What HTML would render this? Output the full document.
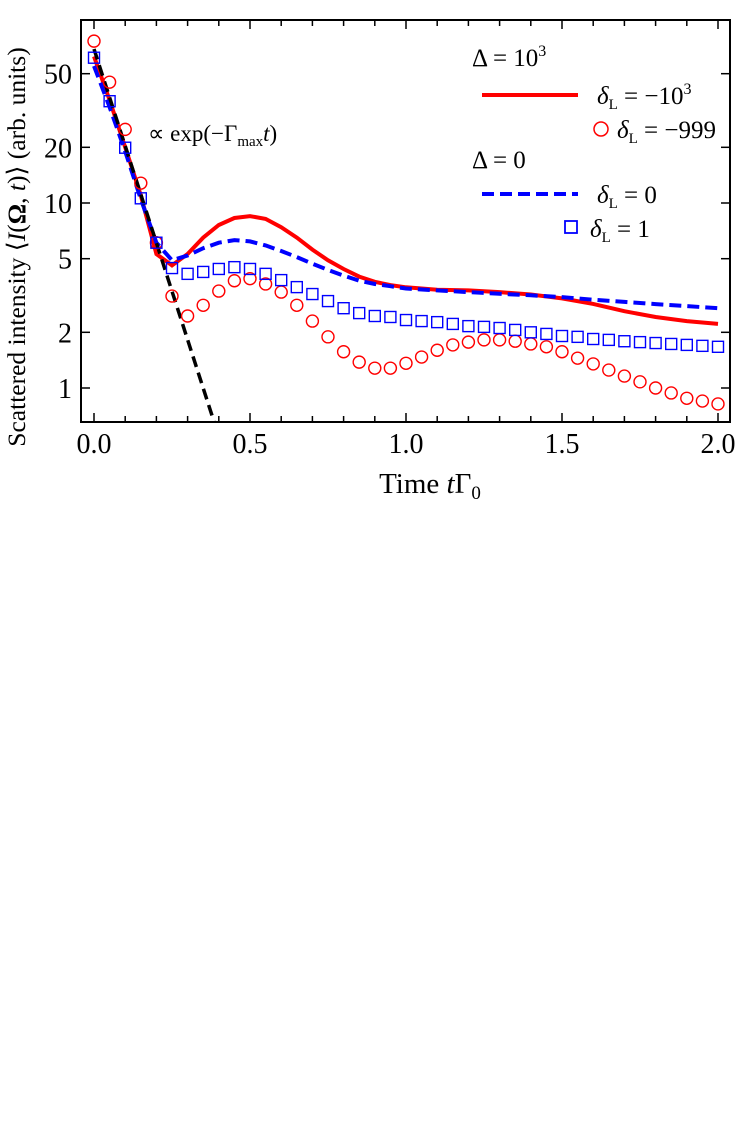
<!DOCTYPE html>
<html><head><meta charset="utf-8"><style>
body{margin:0;background:#fff;width:747px;height:1121px;overflow:hidden}
svg text{font-family:"Liberation Serif",serif;fill:#000}
</style></head><body>
<svg id="chart" width="747" height="1121" xmlns="http://www.w3.org/2000/svg">
<g id="marks"></g>
<rect x="81" y="20" width="649" height="402" fill="none" stroke="#000" stroke-width="2"/>
<g id="ticks"></g>
<text x="430" y="493" font-size="29" text-anchor="middle">Time <tspan font-style="italic">t</tspan>Γ<tspan font-size="19" dy="6">0</tspan></text>
<text transform="translate(25,247) rotate(-90)" font-size="25.5" text-anchor="middle">Scattered intensity ⟨<tspan font-style="italic">I</tspan>(<tspan font-weight="bold">Ω</tspan>, <tspan font-style="italic">t</tspan>)⟩ (arb. units)</text>
<text x="148" y="141" font-size="23">∝ exp(−Γ<tspan font-size="15" dy="5">max</tspan><tspan dy="-5" font-style="italic">t</tspan>)</text>
<g font-size="25">
<text x="472" y="66">Δ = 10<tspan font-size="16" dy="-10">3</tspan></text>
<line x1="482" y1="95" x2="578" y2="95" stroke="#f00" stroke-width="4"/>
<text x="597" y="104"><tspan font-style="italic">δ</tspan><tspan font-size="15" dy="5">L</tspan><tspan dy="-5"> = −10</tspan><tspan font-size="16" dy="-10">3</tspan></text>
<circle cx="601" cy="129" r="7" fill="none" stroke="#f00" stroke-width="1.5"/>
<text x="617" y="138"><tspan font-style="italic">δ</tspan><tspan font-size="15" dy="5">L</tspan><tspan dy="-5"> = −999</tspan></text>
<text x="472" y="168">Δ = 0</text>
<line x1="482" y1="194" x2="578" y2="194" stroke="#00f" stroke-width="4" stroke-dasharray="12,6"/>
<text x="597" y="203"><tspan font-style="italic">δ</tspan><tspan font-size="15" dy="5">L</tspan><tspan dy="-5"> = 0</tspan></text>
<rect x="565" y="221" width="12" height="12" fill="none" stroke="#00f" stroke-width="1.8"/>
<text x="590" y="237"><tspan font-style="italic">δ</tspan><tspan font-size="15" dy="5">L</tspan><tspan dy="-5"> = 1</tspan></text>
</g>
</svg>
<script>
const markerT=[];for(let i=0;i<=40;i++)markerT.push(i*0.05);
const redCircles=[75,45,25,12.8,6.1,3.14,2.45,2.8,3.34,3.8,3.9,3.65,3.3,2.8,2.3,1.89,1.57,1.38,1.28,1.28,1.36,1.47,1.6,1.71,1.77,1.82,1.82,1.79,1.73,1.67,1.57,1.45,1.35,1.25,1.16,1.08,1.0,0.94,0.88,0.85,0.82];
const blueSquares=[61,35.5,19.9,10.6,6.1,4.45,4.14,4.24,4.4,4.5,4.4,4.14,3.83,3.51,3.22,2.95,2.7,2.54,2.45,2.42,2.33,2.3,2.27,2.22,2.16,2.14,2.11,2.06,2.0,1.96,1.91,1.89,1.84,1.82,1.79,1.77,1.75,1.73,1.71,1.69,1.67];
const lineT=[0,0.05,0.1,0.15,0.2,0.25,0.3,0.35,0.4,0.45,0.5,0.55,0.6,0.65,0.7,0.75,0.8,0.85,0.9,0.95,1.0,1.1,1.2,1.3,1.4,1.5,1.6,1.7,1.8,1.9,2.0];
const redLine=[62,36,20,11,5.3,4.6,5.3,6.5,7.6,8.3,8.5,8.2,7.4,6.5,5.6,4.9,4.4,4.0,3.75,3.6,3.5,3.4,3.37,3.3,3.2,3.05,2.85,2.6,2.42,2.3,2.22];
const blueLine=[55,33,19,10.5,6.1,4.9,5.2,5.7,6.1,6.3,6.2,5.9,5.5,5.1,4.7,4.35,4.05,3.8,3.65,3.55,3.45,3.37,3.3,3.23,3.17,3.1,3.0,2.92,2.84,2.77,2.7];
const fitT=[0,0.385];
const fitV=[68,0.655];
const xTicks=[0,0.5,1.0,1.5,2.0];
const xTickLabels=["0.0","0.5","1.0","1.5","2.0"];
const yTicks=[1,2,5,10,20,50];
const yTickLabels=["1","2","5","10","20","50"];
const NS="http://www.w3.org/2000/svg";
const X=t=>94+t*312;
const Y=v=>388-Math.log10(v)*185;
const marks=document.getElementById('marks'),ticks=document.getElementById('ticks');
function mk(tag,at,p){const e=document.createElementNS(NS,tag);for(const k in at)e.setAttribute(k,at[k]);p.appendChild(e);return e;}
function path(ts,vs){return ts.map((t,i)=>(i?'L':'M')+X(t).toFixed(1)+','+Y(vs[i]).toFixed(1)).join('');}
let e;
e=mk('path',{d:path(lineT,redLine),fill:'none',stroke:'#f00','stroke-width':4},marks);


e=mk('path',{d:path(lineT,blueLine),fill:'none',stroke:'#00f','stroke-width':4,'stroke-dasharray':'12,6'},marks);


e=mk('path',{d:path(fitT,fitV),fill:'none',stroke:'#000','stroke-width':3.5,'stroke-dasharray':'11,6'},marks);


markerT.forEach((t,i)=>{
 let c=mk('circle',{cx:X(t),cy:Y(redCircles[i]),r:6,fill:'none',stroke:'#f00','stroke-width':1.4},marks);
 
 
 let s=mk('rect',{x:X(t)-5.5,y:Y(blueSquares[i])-5.5,width:11,height:11,fill:'none',stroke:'#00f','stroke-width':1.4},marks);
 
 
});
for(let i=0;i<=20;i++){const x=X(i*0.1),L=(i%5==0)?9:6;
 mk('line',{x1:x,x2:x,y1:422,y2:422-L,stroke:'#000','stroke-width':1.5},ticks);
 mk('line',{x1:x,x2:x,y1:20,y2:20+L,stroke:'#000','stroke-width':1.5},ticks);}
xTicks.forEach((t,i)=>{const tx=mk('text',{x:X(t),y:453,'font-size':28,'text-anchor':'middle'},ticks);tx.textContent=xTickLabels[i];
 
 });
yTicks.forEach((v,i)=>{const y=Y(v);
 mk('line',{x1:81,x2:90,y1:y,y2:y,stroke:'#000','stroke-width':1.5},ticks);
 mk('line',{x1:730,x2:721,y1:y,y2:y,stroke:'#000','stroke-width':1.5},ticks);
 const tx=mk('text',{x:72,y:y+10,'font-size':28,'text-anchor':'end'},ticks);tx.textContent=yTickLabels[i];
 
 });
</script>
</body></html>
